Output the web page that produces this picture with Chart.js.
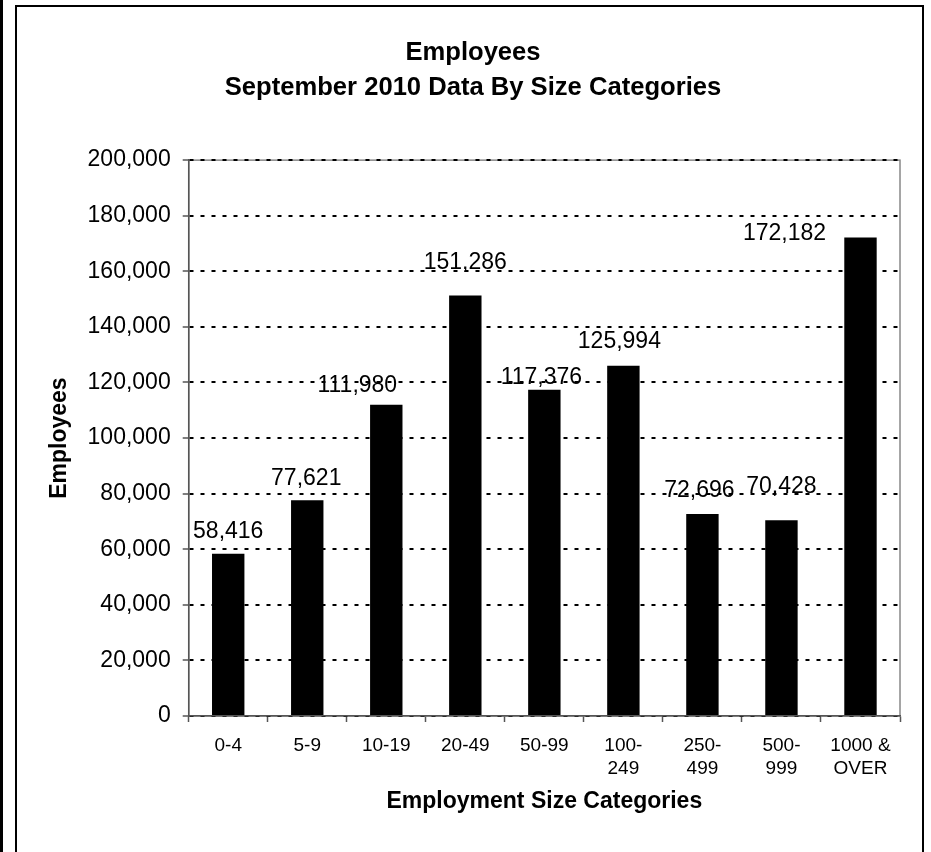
<!DOCTYPE html>
<html>
<head>
<meta charset="utf-8">
<title>Employees - September 2010 Data By Size Categories</title>
<script src="https://cdn.jsdelivr.net/npm/chart.js@4/dist/chart.umd.min.js"></script>
<style>
  html, body { margin: 0; padding: 0; background: #fff; overflow: hidden; }
  #page-line { position: absolute; left: 0; top: 0; width: 3px; height: 852px; background: #000; }
  #frame { position: absolute; left: 15px; top: 5px; width: 909px; height: 900px;
           border: 2px solid #000; box-sizing: border-box; }
  #wrap { position: absolute; left: 0; top: 0; width: 931px; height: 852px; }
</style>
</head>
<body>
<div id="page-line"></div>
<div id="frame"></div>
<div id="wrap"><canvas id="chart" width="931" height="852"></canvas></div>
<script>
// Employment size categories (x axis), multi-line where the original wraps
const categories = ['0-4', '5-9', '10-19', '20-49', '50-99',
                    ['100-', '249'], ['250-', '499'], ['500-', '999'], ['1000 &', 'OVER']];
// Employees per category, September 2010
const employees = [58416, 77621, 111980, 151286, 117376, 125994, 72696, 70428, 172182];
// Y axis ticks
const yTicks = [0, 20000, 40000, 60000, 80000, 100000, 120000, 140000, 160000, 180000, 200000];

// label placement tweaks (dx, gap above bar top) - labels were hand-moved in the original
const labelNudge = [[0, 16], [-1, 15], [-29, 13], [0, 27], [-3, 6], [-4, 18], [-3, 17], [0, 27], [-76, -3]];

const fmt = v => v.toLocaleString('en-US');
const FONT = '"Liberation Sans", Arial, sans-serif';

// gray box round the plot area (top + right edges show through)
const plotFrame = {
    id: 'plotFrame',
    beforeDraw(chart) {
        const a = chart.chartArea, ctx = chart.ctx;
        ctx.save();
        ctx.strokeStyle = '#888';
        ctx.lineWidth = 1.5;
        ctx.strokeRect(a.left, a.top, a.right - a.left, a.bottom - a.top);
        ctx.restore();
    }
};

// value labels over the bars
const valueLabels = {
    id: 'valueLabels',
    afterDatasetsDraw(chart) {
        const ctx = chart.ctx;
        const meta = chart.getDatasetMeta(0);
        ctx.save();
        ctx.font = '23px ' + FONT;
        ctx.fillStyle = '#000';
        ctx.textAlign = 'center';
        ctx.textBaseline = 'alphabetic';
        meta.data.forEach((bar, i) => {
            const n = labelNudge[i] || [0, 14];
            ctx.fillText(fmt(employees[i]), bar.x + n[0], bar.y - n[1]);
        });
        ctx.restore();
    }
};

const ctx = document.getElementById('chart').getContext('2d');
new Chart(ctx, {
    type: 'bar',
    data: {
        labels: categories,
        datasets: [{
            label: 'Employees',
            data: employees,
            backgroundColor: '#000',
            borderWidth: 0,
            barPercentage: 0.41,
            categoryPercentage: 1.0
        }]
    },
    options: {
        responsive: false,
        animation: false,
        devicePixelRatio: 1,
        layout: { padding: { top: 0, left: 46, right: 31, bottom: 37 } },
        plugins: {
            legend: { display: false },
            tooltip: { enabled: false },
            title: {
                display: true,
                text: ['Employees', 'September 2010 Data By Size Categories'],
                color: '#000',
                font: { family: FONT, size: 25.6, weight: 'bold', lineHeight: 1.37 },
                padding: { top: 35.5, bottom: 54.5 }
            }
        },
        scales: {
            x: {
                grid: {
                    display: true,
                    drawOnChartArea: false,
                    drawTicks: true,
                    tickLength: 6,
                    tickColor: '#555',
                    tickWidth: 1.5
                },
                border: { display: true, color: '#555', width: 1.5 },
                ticks: {
                    color: '#000',
                    padding: 12,
                    maxRotation: 0,
                    autoSkip: false,
                    font: { family: FONT, size: 19, lineHeight: 1.21 }
                },
                title: {
                    display: true,
                    text: 'Employment Size Categories',
                    color: '#000',
                    padding: 0,
                    font: { family: FONT, size: 23, weight: 'bold' }
                },
                afterFit: s => { s.height = 99; }
            },
            y: {
                min: 0,
                max: 200000,
                afterBuildTicks: s => { s.ticks = yTicks.map(v => ({ value: v })); },
                grid: {
                    color: '#000',
                    lineWidth: 2,
                    drawTicks: true,
                    tickLength: 6,
                    tickColor: '#555',
                    tickWidth: 1.5,
                    tickBorderDash: []
                },
                // in v4 border.dash is what dashes the grid lines
                border: { display: true, color: '#555', width: 1.5, dash: [4, 7] },
                ticks: {
                    color: '#000',
                    padding: 12,
                    font: { family: FONT, size: 23 },
                    callback: v => fmt(v)
                },
                title: {
                    display: true,
                    text: 'Employees',
                    color: '#000',
                    padding: 0,
                    font: { family: FONT, size: 23, weight: 'bold' }
                },
                afterFit: s => { s.width = 142.7; }
            }
        }
    },
    plugins: [plotFrame, valueLabels]
});
</script>
</body>
</html>
